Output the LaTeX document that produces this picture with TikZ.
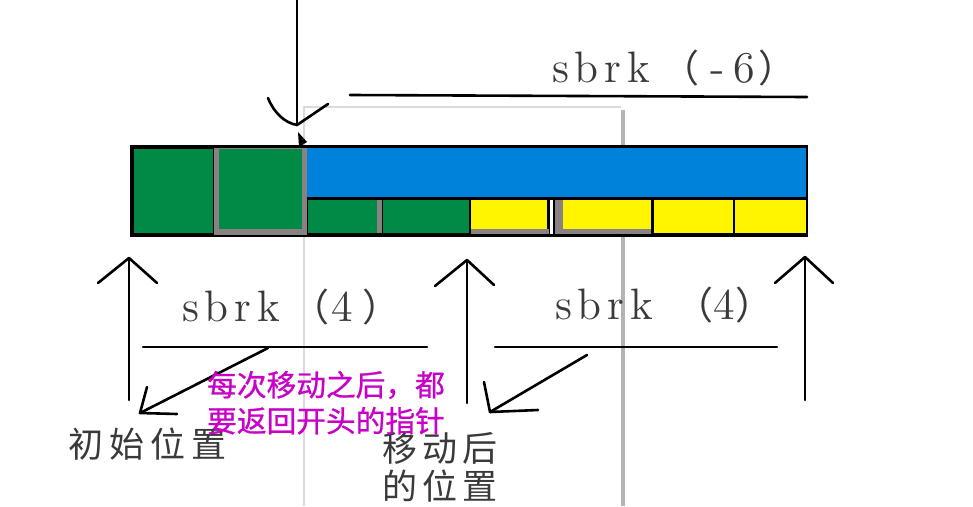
\documentclass[tikz,border=0pt]{standalone}
\usepackage{fontspec}
\newfontfamily\cjk{Noto Sans CJK SC}
\newfontfamily\cjknote{Noto Sans CJK SC}[FakeBold=0.8]
\newfontfamily\sbrkfont{lmroman12-regular.otf}[LetterSpace=13]
\newcommand\fwp[1]{{\cjk\fontsize{38}{38}\selectfont #1}}
\definecolor{bargreen}{HTML}{008A45}
\definecolor{barblue}{HTML}{0082DA}
\definecolor{baryellow}{HTML}{FFF500}
\definecolor{sepgray}{HTML}{8A8282}
\definecolor{framegray}{HTML}{B4B4B4}
\definecolor{lightframe}{HTML}{DADADA}
\definecolor{pencil}{HTML}{3A3A3A}
\definecolor{note}{HTML}{C800C8}
\tikzset{
  stroke/.style={line width=2.6pt, draw=black, line cap=round, line join=round},
  sbrklabel/.style={anchor=base west, inner sep=0pt, text=pencil,
    font=\sbrkfont\fontsize{44}{44}\selectfont},
  place/.style={anchor=base west, inner sep=0pt, text=pencil,
    font=\cjk\fontsize{35}{35}\selectfont},
  notetext/.style={anchor=base west, inner sep=0pt, text=note,
    font=\cjknote\fontsize{29.7}{29.7}\selectfont}
}
\begin{document}
\begin{tikzpicture}[x=1pt,y=-1pt]
\useasboundingbox (0,0) rectangle (973,506);
\fill[white] (0,0) rectangle (973,506);

% faint frame lines behind everything
\draw[lightframe, line width=1.5pt] (304,506) -- (304,107) -- (621,107);
\draw[framegray, line width=4pt] (623,110) -- (623,506);

% memory bar
\fill[black] (130,145) rectangle (808,237);
\fill[bargreen] (134,149) rectangle (213,233);
\fill[sepgray] (214,148) rectangle (307,235);
\fill[bargreen] (219,149) rectangle (302,229);
\fill[barblue] (307,148) rectangle (806,197);
\fill[bargreen] (308,200) rectangle (377,233);
\fill[sepgray] (377,200) rectangle (382,233);
\fill[bargreen] (383,200) rectangle (469,233);
\fill[sepgray] (471,229) rectangle (549,234);
\fill[baryellow] (471,200) rectangle (547,229);
\fill[white] (550,200) rectangle (553,234);
\fill[sepgray] (555,200) rectangle (651,234);
\fill[baryellow] (563,200) rectangle (651,229);
\fill[baryellow] (654,200) rectangle (733,233);
\fill[baryellow] (735,200) rectangle (806,233);

% top pointer arrow
\coordinate (topstart) at (297,0);
\coordinate (toptip) at (297,125);
\coordinate (topleft) at (268,98);
\coordinate (topright) at (328,104);
\draw[stroke] (topstart) -- (toptip);
\draw[stroke] (topleft) .. controls (274,113) and (285,123) .. (toptip) -- (topright);
\fill[black] (298,132) -- (299,147) -- (307,142) -- cycle;

% sbrk(-6)
\coordinate (negA) at (350,95);
\coordinate (negB) at (807,97);
\draw[stroke] (negA) -- (negB);
\node[sbrklabel] (neglabel) at (552,82) {sbrk\hspace{12pt}\fwp{（}\hspace{11pt}-\hspace{8pt}6\hspace{4pt}\fwp{）}};

% up arrows
\coordinate (u1a) at (129,400); \coordinate (u1t) at (129,258);
\draw[stroke] (u1a) -- (u1t);
\draw[stroke] (98,283) -- (u1t) -- (157,283);
\coordinate (u2a) at (467,403); \coordinate (u2t) at (467,260);
\draw[stroke] (u2a) -- (u2t);
\draw[stroke] (435,286) -- (u2t) -- (494,285);
\coordinate (u3a) at (805,400); \coordinate (u3t) at (805,257);
\draw[stroke] (u3a) -- (u3t);
\draw[stroke] (775,283) -- (u3t) -- (833,283);

% first sbrk(4)
\coordinate (f1a) at (143,347); \coordinate (f1b) at (427,347);
\draw[stroke] (f1a) -- (f1b);
\node[sbrklabel] (first) at (182,321) {sbrk\hspace{12pt}\fwp{（}\hspace{2pt}4\hspace{9pt}\fwp{）}};
\coordinate (r1s) at (268,348); \coordinate (r1t) at (140,413);
\draw[stroke] (r1s) -- (r1t);
\draw[stroke] (147,387) -- (r1t) -- (177,414);

% second sbrk(4)
\coordinate (f2a) at (495,347); \coordinate (f2b) at (777,347);
\draw[stroke] (f2a) -- (f2b);
\node[sbrklabel] (second) at (555,319) {sbrk\hspace{23pt}\fwp{（}4\hspace{0pt}\fwp{）}};
\coordinate (r2s) at (587,355); \coordinate (r2t) at (490,412);
\draw[stroke] (r2s) -- (r2t);
\draw[stroke] (484,382) -- (r2t) -- (538,410);

% labels
\node[place] (init) at (68,457) {初\hspace{6pt}始\hspace{6pt}位\hspace{6pt}置};
\node[place] (moved1) at (382,461) {移\hspace{5pt}动\hspace{5pt}后};
\node[place] (moved2) at (382,499) {的\hspace{5pt}位\hspace{5pt}置};
\node[notetext] (note1) at (207,396) {每次移动之后，都};
\node[notetext] (note2) at (207,432) {要返回开头的指针};
\end{tikzpicture}
\end{document}
